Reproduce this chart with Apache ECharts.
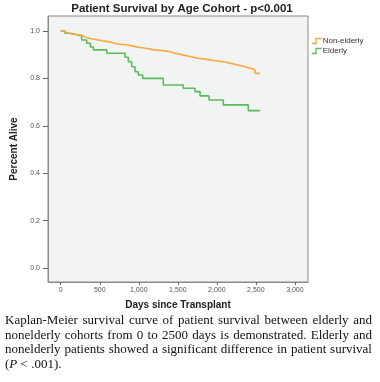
<!DOCTYPE html>
<html>
<head>
<meta charset="utf-8">
<script src="https://cdn.jsdelivr.net/npm/echarts@6/dist/echarts.min.js"></script>
<style>
html,body{margin:0;padding:0;background:#fff;}
#wrap{position:relative;width:380px;height:382px;}
#chart{position:absolute;left:0;top:0;width:380px;height:382px;}
#cap{position:absolute;left:5px;top:313px;width:367px;font-family:"Liberation Serif","DejaVu Serif",serif;font-size:13px;line-height:14.5px;color:#111;}
#cap div{text-align:justify;text-align-last:justify;white-space:nowrap;}
#cap div.last{text-align-last:left;}
</style>
</head>
<body>
<div id="wrap">
<div id="chart"></div>
<div id="cap">
<div>Kaplan-Meier survival curve of patient survival between elderly and</div>
<div>nonelderly cohorts from 0 to 2500 days is demonstrated. Elderly and</div>
<div>nonelderly patients showed a significant difference in patient survival</div>
<div class="last">(<i>P</i> &lt; .001).</div>
</div>
</div>
<script>
const titleText = "Patient Survival by Age Cohort - p<0.001";
const xAxisName = "Days since Transplant";
const yAxisName = "Percent Alive";
const xTicks = [0, 500, 1000, 1500, 2000, 2500, 3000];
const yTicks = [0, 0.2, 0.4, 0.6, 0.8, 1.0];

const nonElderlyDays = [0, 40, 77, 140, 205, 260, 311, 360, 414, 480, 542, 600, 670, 730, 798, 860, 926, 1000, 1105, 1200, 1310, 1390, 1464, 1560, 1656, 1760, 1874, 1960, 2040, 2120, 2194, 2260, 2335, 2400, 2463, 2489, 2553];
const nonElderlySurv = [1.0, 0.992, 0.987, 0.985, 0.983, 0.976, 0.969, 0.966, 0.962, 0.958, 0.955, 0.950, 0.945, 0.943, 0.941, 0.936, 0.931, 0.926, 0.920, 0.917, 0.913, 0.906, 0.899, 0.892, 0.885, 0.880, 0.875, 0.872, 0.868, 0.862, 0.857, 0.851, 0.845, 0.840, 0.835, 0.821, 0.821];

const elderlyDays = [0, 55, 120, 183, 269, 333, 380, 418, 590, 824, 866, 909, 952, 994, 1050, 1314, 1570, 1720, 1785, 1900, 2083, 2403, 2553];
const elderlySurv = [1.0, 0.990, 0.986, 0.979, 0.962, 0.948, 0.932, 0.920, 0.906, 0.889, 0.870, 0.849, 0.828, 0.814, 0.800, 0.772, 0.758, 0.744, 0.726, 0.709, 0.688, 0.664, 0.664];

const seriesNames = ["Non-elderly", "Elderly"];
const colors = ["#f8a83e", "#5cbb5c"];

const pair = (xs, ys) => xs.map((x, i) => [x, ys[i]]);

const chart = echarts.init(document.getElementById('chart'), null, {renderer: 'canvas'});
const stepIcon = 'path://M0,8 L7,8 L7,0 L16,0';
const fmtThousands = v => Math.round(v).toString().replace(/\B(?=(\d{3})+(?!\d))/g, ',');

chart.setOption({
  backgroundColor: '#ffffff',
  animation: false,
  title: {
    text: titleText,
    left: 182, top: 3, textAlign: 'center', padding: 0,
    textStyle: {fontFamily: 'Liberation Sans', fontWeight: 'bold', fontSize: 11.5, color: '#222'}
  },
  legend: {
    orient: 'vertical', left: 306, top: 32,
    itemWidth: 10, itemHeight: 5, itemGap: 2,
    icon: stepIcon,
    data: seriesNames,
    itemStyle: {color: 'rgba(0,0,0,0)', borderWidth: 1.3},
    textStyle: {fontFamily: 'Liberation Sans', fontSize: 8, color: '#333', padding: [0,0,0,-4]}
  },
  grid: {
    left: 48, right: 72, top: 16, bottom: 100,
    show: true, backgroundColor: '#f2f3f3', borderColor: '#8a8a8a', borderWidth: 1
  },
  xAxis: {
    type: 'value', min: -163, max: 3168,
    name: xAxisName, nameLocation: 'middle', nameGap: 18,
    nameTextStyle: {fontFamily: 'Liberation Sans', fontWeight: 'bold', fontSize: 10, color: '#222'},
    axisLine: {show: true, onZero: false, lineStyle: {color: '#8a8a8a'}},
    axisTick: {show: true, length: 3, customValues: xTicks, lineStyle: {color: '#666'}},
    axisLabel: {customValues: xTicks, formatter: fmtThousands, fontFamily: 'Liberation Sans', fontSize: 7, color: '#555', margin: 5},
    splitLine: {show: false}
  },
  yAxis: {
    type: 'value', min: -0.059, max: 1.063,
    name: yAxisName, nameLocation: 'middle', nameGap: 26, nameRotate: 90,
    nameTextStyle: {fontFamily: 'Liberation Sans', fontWeight: 'bold', fontSize: 10, color: '#222'},
    axisLine: {show: true, onZero: false, lineStyle: {color: '#8a8a8a'}},
    axisTick: {show: true, length: 5, customValues: yTicks, lineStyle: {color: '#666'}},
    axisLabel: {customValues: yTicks, formatter: v => v.toFixed(1), fontFamily: 'Liberation Sans', fontSize: 7, color: '#555', margin: 8},
    splitLine: {show: false}
  },
  series: [
    {
      name: seriesNames[0], type: 'line', step: 'end', showSymbol: false,
      data: pair(nonElderlyDays, nonElderlySurv),
      itemStyle: {color: colors[0], borderColor: colors[0]},
      lineStyle: {color: colors[0], width: 1.6}, z: 3
    },
    {
      name: seriesNames[1], type: 'line', step: 'end', showSymbol: false,
      data: pair(elderlyDays, elderlySurv),
      itemStyle: {color: colors[1], borderColor: colors[1]},
      lineStyle: {color: colors[1], width: 1.6}, z: 2
    }
  ]
});
</script>
</body>
</html>
